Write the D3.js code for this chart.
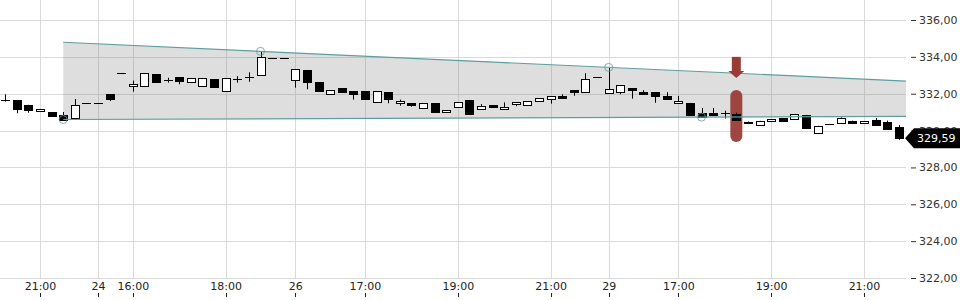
<!DOCTYPE html>
<html>
<head>
<meta charset="utf-8">
<script src="https://cdn.jsdelivr.net/npm/d3@7"></script>
<style>
  body { margin: 0; background: #fff; }
  text { font-family: "DejaVu Sans", sans-serif; }
</style>
</head>
<body>
<div id="chart"></div>
<script>
// 15 min candles, index 0..77
var opens  = [331.66,331.64,331.37,331.05,331.01,330.83,330.64,331.50,331.50,331.98,
              333.11,332.40,332.40,333.05,332.74,332.89,332.62,332.40,332.78,332.13,
              332.78,332.90,333.00,333.92,333.92,332.74,333.29,332.62,332.00,332.29,
              332.13,332.13,331.51,332.08,331.46,331.48,331.19,331.48,330.97,331.26,
              331.66,331.19,331.37,331.13,331.40,331.37,331.59,331.68,331.86,332.20,
              332.08,332.92,332.02,332.08,332.29,332.09,332.08,331.88,331.46,331.50,
              330.95,330.97,330.94,330.90,330.47,330.29,330.50,330.67,330.63,330.85,
              329.88,330.36,330.39,330.54,330.37,330.56,330.47,330.21];
var highs  = [331.97,331.66,331.40,331.15,331.01,331.01,331.71,331.50,331.50,331.98,
              333.11,332.71,333.11,333.05,332.87,332.89,332.84,332.84,332.78,332.84,
              332.95,333.16,334.30,333.92,333.92,333.33,333.29,332.62,332.19,332.29,
              332.13,332.13,332.13,332.08,331.68,331.48,331.48,331.48,331.10,331.53,
              331.66,331.44,331.37,331.53,331.53,331.60,331.75,331.86,331.97,332.20,
              333.11,332.92,333.43,332.46,332.29,332.19,332.08,332.08,331.88,331.50,
              331.23,331.23,331.08,330.97,330.49,330.53,330.63,330.67,330.88,330.85,
              330.26,330.36,330.72,330.54,330.50,330.68,330.54,330.30];
var lows   = [331.57,330.94,330.97,331.05,330.81,330.58,330.64,331.50,331.50,331.60,
              333.11,332.11,332.40,332.62,332.60,332.51,332.62,332.40,332.35,332.13,
              332.60,332.65,333.00,333.92,333.92,332.33,332.24,332.11,332.00,332.09,
              331.68,331.70,331.51,331.48,331.35,331.30,331.19,331.01,330.97,331.26,
              330.88,331.19,331.26,331.13,331.32,331.37,331.59,331.46,331.73,331.89,
              332.08,332.92,332.02,331.97,331.73,332.00,331.51,331.73,331.46,330.86,
              330.72,330.88,330.65,330.57,330.42,330.29,330.50,330.53,330.63,330.16,
              329.88,330.36,330.39,330.36,330.37,330.30,330.09,329.50];
var closes = [331.67,331.15,331.08,331.15,330.81,330.58,331.37,331.50,331.50,331.73,
              333.11,332.53,333.11,332.62,332.76,332.67,332.84,332.84,332.35,332.84,
              332.80,332.92,333.98,333.92,333.92,333.33,332.65,332.11,332.19,332.09,
              331.95,331.70,332.13,331.70,331.59,331.39,331.48,331.01,331.10,331.53,
              330.88,331.35,331.26,331.26,331.53,331.60,331.75,331.86,331.73,332.08,
              332.78,332.92,332.24,332.46,332.20,332.00,331.84,331.73,331.59,330.86,
              330.76,330.88,330.92,330.57,330.42,330.53,330.63,330.53,330.88,330.16,
              330.26,330.36,330.68,330.45,330.50,330.30,330.09,329.59];

var tickIndex  = [3, 8, 11, 19, 25, 31, 39, 47, 52, 58, 66, 74];
var tickLabels = ["21:00","24","16:00","18:00","26","17:00","19:00","21:00","29","17:00","19:00","21:00"];
var priceTicks = [322, 324, 326, 328, 330, 332, 334, 336];

// trend channel anchors [index, price]
var upperLine = [[22, 334.30], [52, 333.43]];
var lowerLine = [[5, 330.60], [60, 330.73]];
var channelStart = 5;

// signal marker
var markerIndex = 63;
var markerBar = [329.38, 332.20];
var markerArrow = [332.85, 334.00];
var lastPrice = 329.59;

var svgWidth = 960, svgHeight = 300;
var plotRight = 906, plotBottom = 278;

var svg = d3.select("#chart").append("svg")
  .attr("width", svgWidth)
  .attr("height", svgHeight);

var x = d3.scaleLinear().domain([0, 77]).range([5.2, 5.2 + 77 * 11.605]);
var y = d3.scaleLinear().domain([322, 336]).range([278, 20]);
var fmt = function(v) { return v.toFixed(2).replace(".", ","); };

// grid
svg.append("g").selectAll("line").data(priceTicks).enter().append("line")
  .attr("x1", 0).attr("x2", plotRight)
  .attr("y1", d => Math.round(y(d)) + 0.5).attr("y2", d => Math.round(y(d)) + 0.5)
  .attr("stroke", "#dadada");
svg.append("g").selectAll("line").data(tickIndex).enter().append("line")
  .attr("x1", d => Math.round(x(d)) + 0.5).attr("x2", d => Math.round(x(d)) + 0.5)
  .attr("y1", 0).attr("y2", plotBottom)
  .attr("stroke", "#dadada");

// channel
function lineAt(pts, i) {
  var s = (pts[1][1] - pts[0][1]) / (pts[1][0] - pts[0][0]);
  return pts[0][1] + s * (i - pts[0][0]);
}
var endIdx = x.invert(plotRight);
var poly = [
  [x(channelStart), y(lineAt(upperLine, channelStart))],
  [plotRight, y(lineAt(upperLine, endIdx))],
  [plotRight, y(lineAt(lowerLine, endIdx))],
  [x(channelStart), y(lineAt(lowerLine, channelStart))]
];
svg.append("path")
  .attr("d", d3.line()(poly) + "Z")
  .attr("fill", "#808080")
  .attr("fill-opacity", 0.26);

// marker bar behind candles
svg.append("rect")
  .attr("x", x(markerIndex) - 6)
  .attr("y", y(markerBar[1]))
  .attr("width", 12)
  .attr("height", y(markerBar[0]) - y(markerBar[1]))
  .attr("rx", 6)
  .attr("fill", "#9a3c36")
  .attr("fill-opacity", 0.95);

// candles
var candles = svg.append("g").selectAll("g").data(opens).enter().append("g");
candles.append("line")
  .attr("x1", (d, i) => Math.round(x(i)) + 0.5)
  .attr("x2", (d, i) => Math.round(x(i)) + 0.5)
  .attr("y1", (d, i) => y(highs[i]))
  .attr("y2", (d, i) => y(lows[i]))
  .attr("stroke", "#000");
candles.append("rect")
  .attr("x", (d, i) => Math.round(x(i)) - 3.5)
  .attr("width", 8)
  .attr("y", (d, i) => Math.round(y(Math.max(opens[i], closes[i]))) + 0.5)
  .attr("height", (d, i) => Math.max(0.01, Math.round(Math.abs(y(opens[i]) - y(closes[i])))))
  .attr("fill", (d, i) => closes[i] > opens[i] ? "#fff" : "#000")
  .attr("stroke", "#000");

// trend lines
[upperLine, lowerLine].forEach(function(pts) {
  svg.append("line")
    .attr("x1", x(channelStart)).attr("y1", y(lineAt(pts, channelStart)))
    .attr("x2", plotRight).attr("y2", y(lineAt(pts, endIdx)))
    .attr("stroke", "#5f9ea0").attr("stroke-width", 1.2);
  svg.append("g").selectAll("circle").data(pts).enter().append("circle")
    .attr("cx", d => x(d[0])).attr("cy", d => y(d[1]))
    .attr("r", 4)
    .attr("fill", "none")
    .attr("stroke", "#5f9ea0")
    .attr("stroke-opacity", 0.8);
});

// arrow
var ax = x(markerIndex);
svg.append("rect")
  .attr("x", ax - 4.5).attr("y", y(markerArrow[1]))
  .attr("width", 9).attr("height", y(markerArrow[0]) - 7 - y(markerArrow[1]))
  .attr("fill", "#9a3c36");
svg.append("path")
  .attr("d", `M${ax - 8},${y(markerArrow[0]) - 7}L${ax + 8},${y(markerArrow[0]) - 7}L${ax},${y(markerArrow[0])}Z`)
  .attr("fill", "#9a3c36");

// y axis
var yAxis = svg.append("g")
  .attr("transform", `translate(911,0)`)
  .call(d3.axisRight(y).tickValues(priceTicks).tickFormat(fmt).tickSize(5).tickPadding(3));
yAxis.select(".domain").remove();
yAxis.selectAll("line").attr("stroke", "#333");
yAxis.selectAll("text").attr("font-size", "11px").attr("fill", "#333").attr("font-family", "DejaVu Sans");

// x axis
var xAxis = svg.append("g")
  .attr("transform", `translate(0,${plotBottom})`)
  .call(d3.axisBottom(x).tickValues(tickIndex).tickFormat((d, i) => tickLabels[i]).tickSize(0).tickPadding(4));
xAxis.select(".domain").remove();
xAxis.selectAll("text").attr("font-size", "11px").attr("fill", "#222").attr("font-family", "DejaVu Sans");
svg.append("g").selectAll("line").data(tickIndex).enter().append("line")
  .attr("x1", d => Math.round(x(d)) + 0.5).attr("x2", d => Math.round(x(d)) + 0.5)
  .attr("y1", 293).attr("y2", 297)
  .attr("stroke", "#222");

// last price label
var ly = y(lastPrice);
svg.append("path")
  .attr("d", `M905,${ly}L914,${ly - 10}L960,${ly - 10}L960,${ly + 10}L914,${ly + 10}Z`)
  .attr("fill", "#000");
svg.append("text")
  .attr("x", 917).attr("y", ly)
  .attr("dominant-baseline", "central")
  .attr("font-size", "11px")
  .attr("fill", "#fff")
  .text(fmt(lastPrice));
</script>
</body>
</html>
